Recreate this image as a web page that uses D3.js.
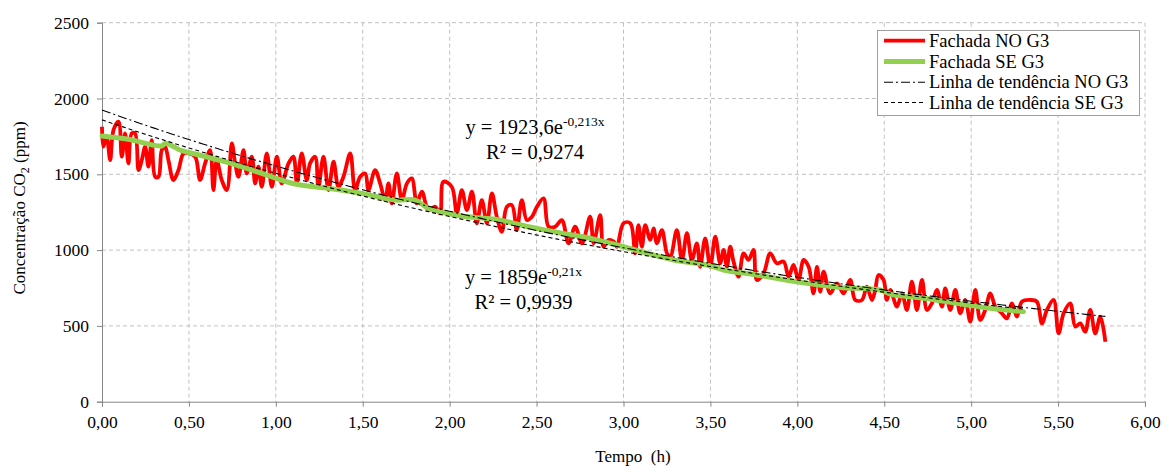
<!DOCTYPE html>
<html><head><meta charset="utf-8">
<script src="https://cdn.jsdelivr.net/npm/d3@7"></script>
<style>
html,body{margin:0;padding:0;background:#fff;}
svg{display:block;}
svg text{font-family:"Liberation Serif","Times New Roman",serif !important;}
</style></head>
<body><svg id="c" width="1163" height="466"></svg>
<script>
// ---- data ----
const xTicks = [0,0.5,1,1.5,2,2.5,3,3.5,4,4.5,5,5.5,6];
const yTicks = [0,500,1000,1500,2000,2500];
const seriesNames = ["Fachada NO G3","Fachada SE G3","Linha de tendência NO G3","Linha de tendência SE G3"];

const redTime = [0.000,0.008,0.027,0.047,0.066,0.095,0.114,0.133,0.152,0.171,0.190,0.210,0.229,0.248,0.267,0.286,0.306,0.325,0.344,0.363,0.382,0.411,0.440,0.469,0.497,0.536,0.564,0.593,0.622,0.641,0.660,0.689,0.718,0.747,0.766,0.785,0.814,0.833,0.862,0.881,0.900,0.919,0.948,0.977,1.006,1.034,1.073,1.101,1.121,1.149,1.178,1.197,1.226,1.245,1.274,1.303,1.332,1.360,1.389,1.428,1.456,1.485,1.514,1.533,1.571,1.600,1.629,1.648,1.667,1.696,1.725,1.754,1.782,1.811,1.840,1.878,1.917,1.945,1.964,2.012,2.041,2.070,2.099,2.128,2.156,2.185,2.214,2.243,2.271,2.300,2.329,2.358,2.386,2.415,2.444,2.473,2.502,2.540,2.569,2.607,2.645,2.684,2.722,2.761,2.808,2.828,2.866,2.885,2.914,2.943,2.962,3.000,3.039,3.067,3.086,3.106,3.125,3.154,3.173,3.192,3.221,3.250,3.269,3.307,3.336,3.365,3.393,3.422,3.441,3.470,3.499,3.528,3.556,3.576,3.595,3.614,3.633,3.662,3.691,3.719,3.748,3.767,3.806,3.844,3.882,3.921,3.950,3.978,4.007,4.036,4.065,4.093,4.113,4.132,4.151,4.189,4.228,4.266,4.304,4.333,4.372,4.400,4.429,4.448,4.467,4.496,4.515,4.535,4.573,4.602,4.630,4.659,4.688,4.717,4.746,4.774,4.803,4.832,4.851,4.880,4.909,4.937,4.966,4.995,5.024,5.052,5.081,5.110,5.139,5.177,5.206,5.235,5.263,5.292,5.340,5.378,5.407,5.436,5.474,5.503,5.532,5.570,5.599,5.628,5.656,5.685,5.714,5.743,5.772];
const redValue = [1814,1682,1748,1594,1792,1847,1616,1770,1572,1770,1770,1528,1594,1682,1550,1726,1484,1484,1660,1682,1594,1462,1528,1638,1638,1616,1462,1572,1660,1396,1594,1462,1396,1704,1572,1484,1660,1506,1616,1440,1550,1418,1638,1418,1616,1440,1572,1616,1440,1638,1462,1572,1616,1418,1616,1396,1583,1418,1484,1638,1396,1484,1506,1396,1528,1440,1330,1440,1308,1506,1330,1440,1473,1308,1385,1264,1286,1242,1451,1418,1242,1396,1264,1385,1177,1330,1177,1374,1220,1121,1286,1297,1132,1330,1198,1220,1286,1341,1154,1154,1198,1045,1154,1045,1220,1045,1231,1022,1067,1056,1022,1177,1177,979,1165,1022,1165,1067,1143,1045,1132,979,957,1132,935,1111,935,1045,890,1078,890,1089,913,1001,890,1022,924,825,979,935,1001,803,847,979,913,924,825,902,803,935,890,715,890,726,858,715,781,715,803,671,671,759,671,737,836,803,671,737,627,715,605,792,605,803,605,649,737,627,748,605,737,583,671,528,737,539,605,715,627,583,550,649,561,660,671,660,517,605,671,451,583,649,495,517,462,605,451,561,396];

const greenTime = [0.000,0.152,0.344,0.363,0.459,0.536,0.727,0.919,1.111,1.303,1.495,1.686,1.801,1.878,2.070,2.262,2.454,2.645,2.837,3.000,3.288,3.480,3.576,3.767,4.055,4.247,4.477,4.535,4.726,4.918,5.110,5.301];
const greenValue = [1753,1731,1687,1704,1656,1634,1577,1506,1436,1407,1374,1330,1330,1275,1225,1203,1154,1111,1071,1022,935,902,869,836,781,754,737,710,682,649,616,594];

// trend-line equations shown on the chart (a·e^(b·x)) and their x-ranges
const trendA = [1923.6, 1859];
const trendB = [-0.213, -0.21];
const trendEnd = [5.772, 5.301];
const eqLabel1 = ["y = 1923,6e", "-0,213x", "R² = 0,9274"];
const eqLabel2 = ["y = 1859e", "-0,21x", "R² = 0,9939"];

// ---- drawing ----
const FONT = "Liberation Serif";
const svg = d3.select("#c");
const L = 102, R = 1145, T = 22.7, B = 401.7;
const x = d3.scaleLinear().domain([0,6]).range([L,R]);
const y = d3.scaleLinear().domain([0,2500]).range([B,T]);
const fmtX = d => d3.format(".2f")(d).replace(".", ",");

// grid
const grid = svg.append("g");
grid.selectAll(".gx").data(xTicks.slice(1)).join("line")
  .attr("x1", d=>x(d)).attr("x2", d=>x(d)).attr("y1", T).attr("y2", B)
  .attr("stroke","#c0c0c0").attr("stroke-width",1).attr("stroke-dasharray","4,3");
grid.selectAll(".gy").data(yTicks.slice(1)).join("line")
  .attr("x1", L).attr("x2", R).attr("y1", d=>y(d)).attr("y2", d=>y(d))
  .attr("stroke","#c0c0c0").attr("stroke-width",1).attr("stroke-dasharray","4,3");

// axes
const xAxis = svg.append("g").attr("transform",`translate(0,${B})`)
  .call(d3.axisBottom(x).tickValues(xTicks).tickFormat(fmtX).tickSizeOuter(0).tickSize(5));
const yAxis = svg.append("g").attr("transform",`translate(${L},0)`)
  .call(d3.axisLeft(y).tickValues(yTicks).tickFormat(d3.format("d")).tickSizeOuter(0).tickSize(5));
[xAxis,yAxis].forEach(a=>{
  a.attr("font-family",FONT).attr("font-size",17.5);
  a.select(".domain").attr("stroke","#868686");
  a.selectAll(".tick line").attr("stroke","#868686");
  a.selectAll(".tick text").attr("font-family",FONT).attr("font-size",17.5).attr("fill","#000");
});
xAxis.selectAll(".tick text").attr("dy","1.05em");
yAxis.selectAll(".tick text").attr("x",-13);

// series
const line = d3.line().x(d=>x(d[0])).y(d=>y(d[1])).curve(d3.curveCatmullRom.alpha(0.5));
const red = redTime.map((t,i)=>[t,redValue[i]]);
const green = greenTime.map((t,i)=>[t,greenValue[i]]);

svg.append("path").datum(red).attr("d",line).attr("fill","none")
  .attr("stroke","#ff0000").attr("stroke-width",3.8).attr("stroke-linejoin","round");
svg.append("path").datum(green).attr("d",line).attr("fill","none")
  .attr("stroke","#92d050").attr("stroke-width",5).attr("stroke-linejoin","round").attr("stroke-linecap","round");

const trendDash = ["9,3,2,3","4,3"];
trendA.forEach((a,k)=>{
  const pts = d3.range(0, trendEnd[k]+1e-9, 0.02).concat([trendEnd[k]]).map(t=>[t, a*Math.exp(trendB[k]*t)]);
  svg.append("path").datum(pts)
    .attr("d", d3.line().x(d=>x(d[0])).y(d=>y(d[1])))
    .attr("fill","none").attr("stroke","#000").attr("stroke-width",1.1)
    .attr("stroke-dasharray",trendDash[k]);
});

// equations
function eq(lbl, cx, y1, y2){
  const t1 = svg.append("text").attr("x",cx).attr("y",y1).attr("text-anchor","middle")
    .attr("font-family",FONT).attr("font-size",20.5).attr("fill","#000");
  t1.append("tspan").text(lbl[0]);
  t1.append("tspan").attr("font-size",13.5).attr("dy",-8).text(lbl[1]);
  svg.append("text").attr("x",cx).attr("y",y2).attr("text-anchor","middle")
    .attr("font-family",FONT).attr("font-size",20.5).attr("fill","#000").text(lbl[2]);
}
eq(eqLabel1, 535, 133.5, 158.5);
eq(eqLabel2, 523.5, 283.5, 308.5);

// axis titles
const yt = svg.append("text").attr("transform","translate(25,208) rotate(-90)")
  .attr("text-anchor","middle").attr("font-family",FONT).attr("font-size",17).attr("fill","#000");
yt.append("tspan").text("Concentração  CO");
yt.append("tspan").attr("font-size",12).attr("dy",4).text("2");
yt.append("tspan").attr("dy",-4).text(" (ppm)");
svg.append("text").attr("x",633).attr("y",462).attr("text-anchor","middle")
  .attr("font-family",FONT).attr("font-size",17).attr("fill","#000").style("white-space","pre").text("Tempo  (h)");

// legend
const lg = svg.append("g");
lg.append("rect").attr("x",877.5).attr("y",30.5).attr("width",262).attr("height",85)
  .attr("fill","#fff").attr("stroke","#a0a0a0").attr("stroke-width",1);
const legStyles = [
  {c:"#ff0000", w:3.8, d:null},
  {c:"#92d050", w:5, d:null},
  {c:"#000", w:1.1, d:trendDash[0]},
  {c:"#000", w:1.1, d:trendDash[1]}
];
const rowY = [40.7, 61.5, 82.2, 102.5];
seriesNames.forEach((n,i)=>{
  lg.append("line").attr("x1",884).attr("x2",925).attr("y1",rowY[i]).attr("y2",rowY[i])
    .attr("stroke",legStyles[i].c).attr("stroke-width",legStyles[i].w)
    .attr("stroke-dasharray",legStyles[i].d);
  lg.append("text").attr("x",929).attr("y",rowY[i]+6).attr("font-family",FONT).attr("font-size",18.5).attr("fill","#000").text(n);
});
</script></body></html>
